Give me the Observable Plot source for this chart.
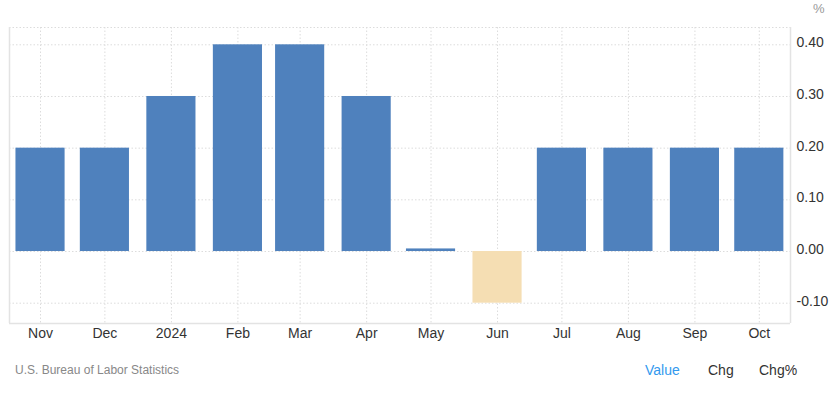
<!DOCTYPE html>
<html><head><meta charset="utf-8">
<script src="https://cdn.jsdelivr.net/npm/d3@7"></script>
<script src="https://cdn.jsdelivr.net/npm/@observablehq/plot@0.6"></script>
<style>
body{margin:0;background:#fff;font-family:Arial,"Liberation Sans",sans-serif;}
#wrap{position:relative;width:837px;height:395px;overflow:hidden;}
#chart svg{display:block;}
.abs{position:absolute;line-height:1;white-space:nowrap;}
#unit{left:813px;top:2px;font-size:13px;color:#999;}
#src{left:15px;top:364px;font-size:12px;color:#888;}
.tab{top:363px;font-size:14px;color:#333;}
.tab.on{color:#3399ee;}
</style></head><body>
<div id="wrap">
<div id="chart"></div>
<div class="abs" id="unit">%</div>
<div class="abs" id="src">U.S. Bureau of Labor Statistics</div>
<div class="abs tab on" style="left:645px">Value</div>
<div class="abs tab" style="left:708px">Chg</div>
<div class="abs tab" style="left:759px">Chg%</div>
</div>
<script>
const months = ["2023-11-01","2023-12-01","2024-01-01","2024-02-01","2024-03-01","2024-04-01","2024-05-01","2024-06-01","2024-07-01","2024-08-01","2024-09-01","2024-10-01"];
const tickLabels = ["Nov","Dec","2024","Feb","Mar","Apr","May","Jun","Jul","Aug","Sep","Oct"];
const values = [0.2,0.2,0.3,0.4,0.4,0.3,0.005,-0.1,0.2,0.2,0.2,0.2];
const yTicks = [-0.1,0,0.1,0.2,0.3,0.4];
const yDomain = [-0.1393,0.4335];
const xDomain = ["2023-10-17T13:00:00Z","2024-10-15T13:00:00Z"];
const posColor = "#4f81bd", negColor = "#f5deb3";
const gridColor = "#dcdcdc", frameColor = "#e3e3e3";
const barHalfDays = 11.45;

const DAY = 864e5;
const data = months.map((m,i)=>({date:new Date(m+"T00:00:00Z"), label:tickLabels[i], value:values[i]}));
const labelOf = new Map(data.map(d=>[+d.date,d.label]));

const chart = Plot.plot({
  width:837, height:350,
  marginTop:27, marginBottom:27, marginLeft:9, marginRight:47,
  style:{fontFamily:'Arial,"Liberation Sans",sans-serif', fontSize:"14px", color:"#333", background:"#fff"},
  x:{type:"utc", domain:xDomain.map(s=>new Date(s))},
  y:{domain:yDomain},
  marks:[
    Plot.ruleX(data,{x:"date", stroke:gridColor, strokeDasharray:"1.5,2"}),
    Plot.ruleY(yTicks,{stroke:gridColor, strokeDasharray:"1.5,2"}),
    Plot.ruleY([yDomain[1]],{stroke:gridColor, strokeDasharray:"1.5,2"}),
    Plot.rectY(data,{
      x1:d=>new Date(+d.date-barHalfDays*DAY),
      x2:d=>new Date(+d.date+barHalfDays*DAY),
      y:"value",
      fill:d=>d.value<0?negColor:posColor
    }),
    Plot.ruleY([yDomain[0]],{stroke:frameColor, strokeWidth:1.5}),
    Plot.ruleX([new Date(xDomain[0])],{stroke:frameColor, strokeWidth:1.5}),
    Plot.ruleX([new Date(xDomain[1])],{stroke:frameColor, strokeWidth:1.5}),
    Plot.axisX({ticks:data.map(d=>d.date), tickSize:0, tickPadding:5, tickFormat:d=>labelOf.get(+d), label:null, fill:"#333"}),
    Plot.axisY({anchor:"right", ticks:yTicks, tickSize:0, tickPadding:6, tickFormat:d=>d.toFixed(2), label:null, dy:-2, fill:"#333"})
  ]
});
document.getElementById("chart").appendChild(chart);
</script>
</body></html>
